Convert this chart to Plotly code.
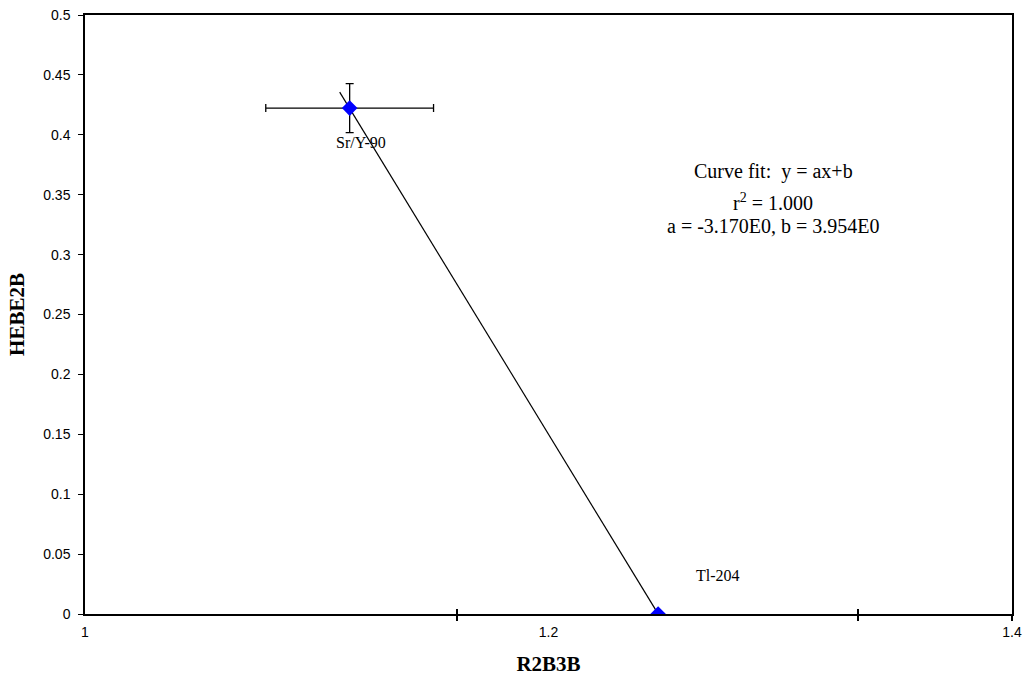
import numpy as np
import plotly.graph_objects as go

# ---- data ----
point_labels = ["Sr/Y-90", "Tl-204"]
x_vals = [1.1142, 1.2473]
y_vals = [0.4223, 0.0]
x_err = [0.0362, 0.0]
y_err = [0.0205, 0.0]
fit_a = -3.170
fit_b = 3.954
fit_x_range = [1.1099, 1.2473]
x_ticklabels = [1.0, 1.2, 1.4]
x_tickmarks = [1.1605, 1.3336, 1.4]
y_ticks = [0, 0.05, 0.1, 0.15, 0.2, 0.25, 0.3, 0.35, 0.4, 0.45, 0.5]

fit_x = np.array(fit_x_range)
fit_y = fit_a * fit_x + fit_b

fig = go.Figure()

fig.add_trace(go.Scatter(
    x=fit_x, y=fit_y, mode="lines",
    line=dict(color="black", width=1.2),
    showlegend=False, hoverinfo="skip",
))

fig.add_trace(go.Scatter(
    x=x_vals, y=y_vals, mode="markers",
    marker=dict(symbol="diamond", size=12, color="#0000FF"),
    error_x=dict(type="data", array=x_err, visible=True, color="black", thickness=1.3, width=4),
    error_y=dict(type="data", array=y_err, visible=True, color="black", thickness=1.3, width=4),
    showlegend=False,
))

# invisible trace to activate the overlay axis that draws the inner half of the cross ticks
fig.add_trace(go.Scatter(x=[x_vals[0]], y=[y_vals[0]], xaxis="x2", mode="markers",
                         marker=dict(opacity=0), showlegend=False, hoverinfo="skip"))

label_shifts = [(11, -34), (60, 39)]
for lbl, xv, yv, (dx, dy) in zip(point_labels, x_vals, y_vals, label_shifts):
    fig.add_annotation(x=xv, y=yv, text=lbl, showarrow=False,
                       xshift=dx, yshift=dy,
                       font=dict(family="Liberation Serif", size=16, color="black"))

fit_lines = [
    "Curve fit:  y = ax+b",
    "r<sup>2</sup> = 1.000",
    f"a = {fit_a:.3f}E0, b = {fit_b:.3f}E0",
]
fit_line_y = [0.7379, 0.6878, 0.6477]
for t, py in zip(fit_lines, fit_line_y):
    fig.add_annotation(x=0.7427, y=py, xref="paper", yref="paper",
                       text=t, showarrow=False, xanchor="center", yanchor="middle",
                       font=dict(family="Liberation Serif", size=20, color="black"))

fig.update_layout(
    width=1026, height=681,
    margin=dict(l=85, r=14, t=15, b=67, autoexpand=False),
    paper_bgcolor="white", plot_bgcolor="white",
    xaxis=dict(
        range=[1.0, 1.4], tickvals=x_ticklabels, ticktext=["1", "1.2", "1.4"],
        ticks="", showgrid=False, zeroline=False, automargin=False,
        showline=True, linecolor="black", linewidth=2, mirror=True,
        ticklabelstandoff=4,
        tickfont=dict(family="Liberation Sans", size=14, color="black"),
        minor=dict(tickvals=x_tickmarks, ticks="outside", ticklen=5, tickcolor="black", tickwidth=1.5),
        title=dict(text="<b>R2B3B</b>", font=dict(family="Liberation Serif", size=21, color="black"), standoff=18),
    ),
    xaxis2=dict(
        range=[1.0, 1.4], overlaying="x", side="bottom", tickvals=x_tickmarks,
        ticks="inside", ticklen=5, tickcolor="black", tickwidth=1.5,
        showticklabels=False, showgrid=False, zeroline=False, showline=False, automargin=False,
    ),
    yaxis=dict(
        range=[0, 0.5], tickvals=y_ticks, ticktext=[f"{v:g}" for v in y_ticks],
        ticks="outside", ticklen=5, tickcolor="black", tickwidth=1.3,
        showgrid=False, zeroline=False, automargin=False,
        showline=True, linecolor="black", linewidth=1.5, mirror=True,
        ticklabelstandoff=5,
        tickfont=dict(family="Liberation Sans", size=14, color="black"),
        title=dict(text="<b>HEBE2B</b>", font=dict(family="Liberation Serif", size=21, color="black"), standoff=13),
    ),
)

fig.write_html("out.html", config={"displayModeBar": False},
               post_script="document.body.style.margin='0';")
